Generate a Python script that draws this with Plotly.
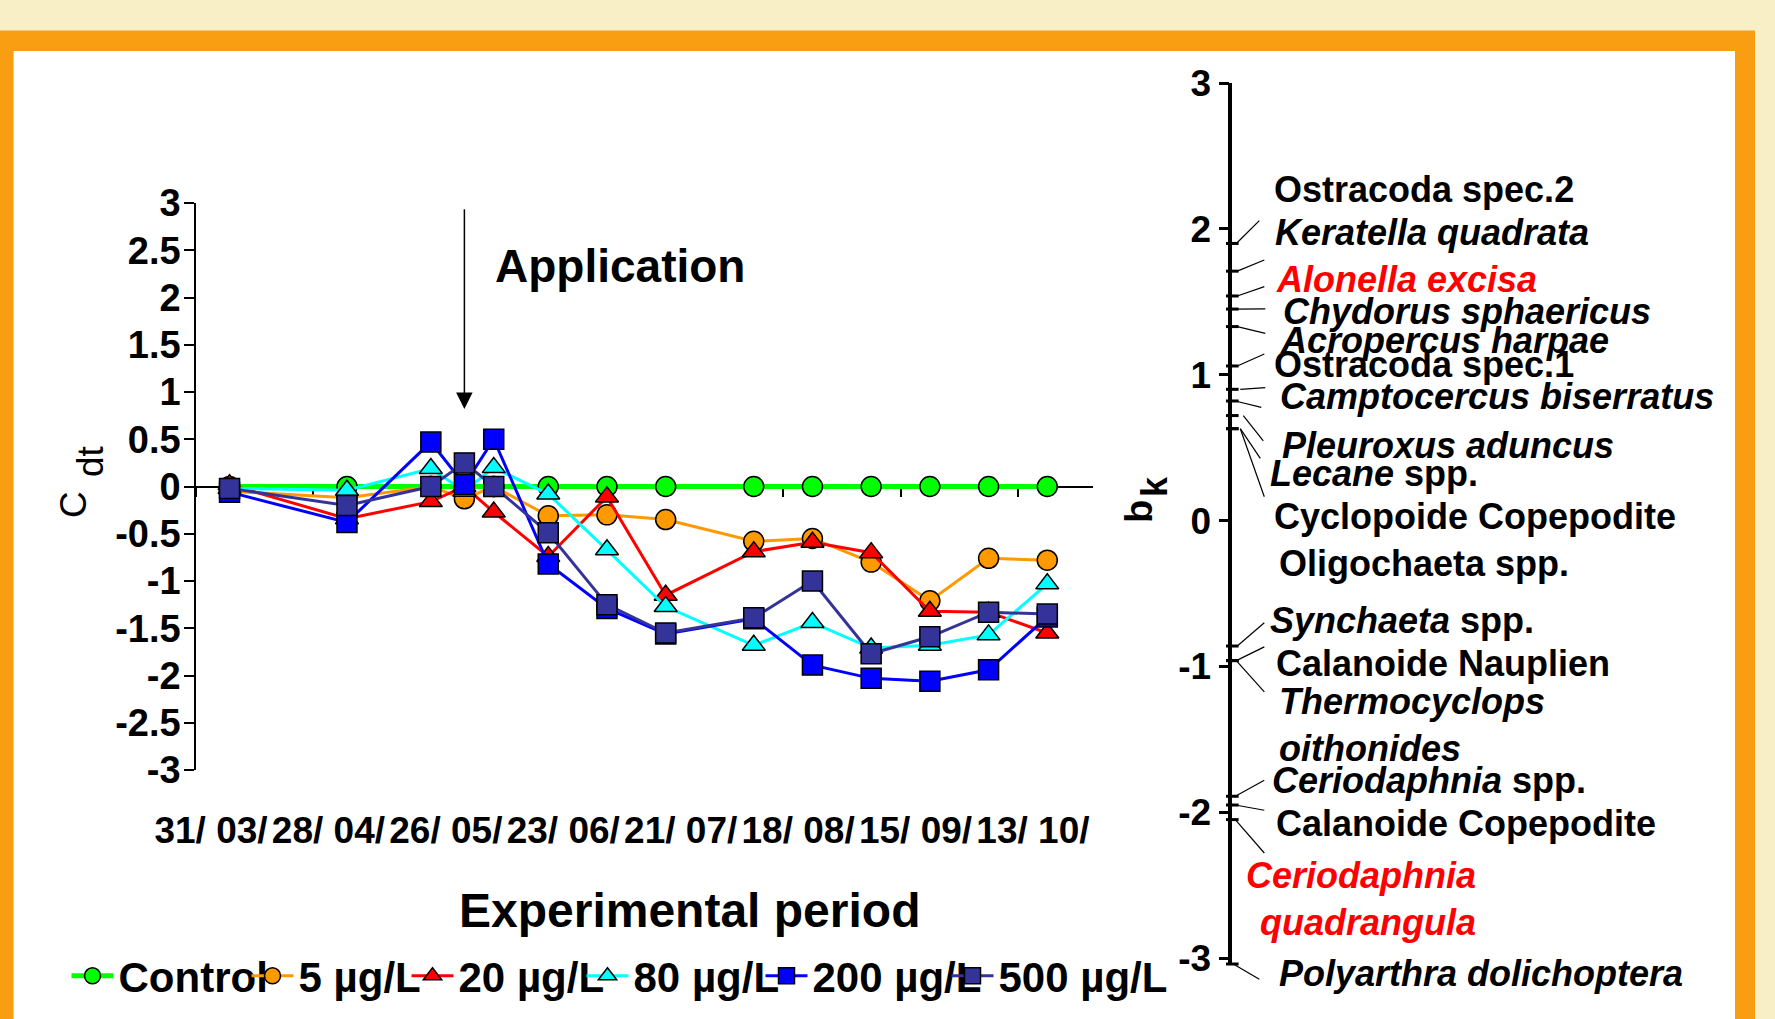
import plotly.graph_objects as go

W, H = 1775, 1019

# ---------------- data: left panel (principal response curves, C_dt) ----------------
sample_dates = ["2004-04-08", "2004-05-06", "2004-05-26", "2004-06-03", "2004-06-10",
                "2004-06-23", "2004-07-07", "2004-07-21", "2004-08-11", "2004-08-25",
                "2004-09-08", "2004-09-22", "2004-10-06", "2004-10-20"]

control = [0.0, 0.0, 0.0, 0.0, 0.0, 0.0, 0.0, 0.0, 0.0, 0.0, 0.0, 0.0, 0.0, 0.0]
c_5 = [-0.05, -0.12, 0.0, -0.13, 0.0, -0.31, -0.30, -0.35, -0.58, -0.55, -0.80, -1.21, -0.76, -0.78]
c_20 = [0.02, -0.34, -0.16, 0.0, -0.27, -0.74, -0.11, -1.15, -0.69, -0.59, -0.70, -1.32, -1.33, -1.55]
c_80 = [-0.02, -0.04, 0.19, -0.05, 0.20, -0.08, -0.67, -1.27, -1.68, -1.44, -1.71, -1.68, -1.57, -1.03]
c_200 = [-0.06, -0.38, 0.47, 0.02, 0.50, -0.82, -1.29, -1.56, -1.40, -1.89, -2.03, -2.06, -1.94, -1.38]
c_500 = [-0.02, -0.20, 0.0, 0.25, 0.0, -0.49, -1.25, -1.55, -1.39, -1.00, -1.77, -1.59, -1.33, -1.35]

series_names = ["Control", "5 µg/L", "20 µg/L", "80 µg/L", "200 µg/L", "500 µg/L"]
series_values = [control, c_5, c_20, c_80, c_200, c_500]

x_tick_dates = ["2004-03-31", "2004-04-28", "2004-05-26", "2004-06-23",
                "2004-07-21", "2004-08-18", "2004-09-15", "2004-10-13"]
x_tick_labels = ["31/ 03/", "28/ 04/", "26/ 05/", "23/ 06/",
                 "21/ 07/", "18/ 08/", "15/ 09/", "13/ 10/"]
y_tick_values = [3, 2.5, 2, 1.5, 1, 0.5, 0, -0.5, -1, -1.5, -2, -2.5, -3]
y_tick_labels = ["3", "2.5", "2", "1.5", "1", "0.5", "0", "-0.5", "-1", "-1.5", "-2", "-2.5", "-3"]
application_date = "2004-06-03"

# ---------------- data: right panel (species weights b_k) ----------------
species_labels = [
    "Ostracoda spec.2", "<i>Keratella quadrata</i>", "<i>Alonella excisa</i>",
    "<i>Chydorus sphaericus</i>", "<i>Acropercus harpae</i>", "Ostracoda spec.1",
    "<i>Camptocercus biserratus</i>", "<i>Pleuroxus aduncus</i>", "<i>Lecane</i> spp.",
    "Cyclopoide Copepodite", "Oligochaeta spp.", "<i>Synchaeta</i> spp.",
    "Calanoide Nauplien", "<i>Thermocyclops</i><br><i>oithonides</i>", "<i>Ceriodaphnia</i> spp.",
    "Calanoide Copepodite", "<i>Ceriodaphnia</i><br><i>quadrangula</i>", "<i>Polyarthra dolichoptera</i>",
]
species_bk = [1.90, 1.71, 1.54, 1.45, 1.33, 1.06, 0.90, 0.82, 0.72, 0.63, 0.63,
              -0.86, -0.96, -0.96, -1.89, -1.95, -2.05, -3.04]
species_colors = ["black", "black", "#FF0000", "black", "black", "black", "black", "black", "black",
                  "black", "black", "black", "black", "black", "black", "black", "#FF0000", "black"]
bk_tick_values = [3, 2, 1, 0, -1, -2, -3]
bk_tick_labels = ["3", "2", "1", "0", "-1", "-2", "-3"]

# ---------------- layout helpers (positions / styles) ----------------
def px_x(p):
    return p / W


def px_y(p):
    return 1 - p / H


FONT = "Liberation Sans, Arial, sans-serif"
styles = [
    dict(color="#00FF00", symbol="circle", lw=5),
    dict(color="#FF9900", symbol="circle", lw=3),
    dict(color="#FF0000", symbol="triangle-up", lw=3),
    dict(color="#00FFFF", symbol="triangle-up", lw=3),
    dict(color="#0000FF", symbol="square", lw=3),
    dict(color="#333399", symbol="square", lw=3),
]
legend_widths = [123, 103, 118, 122, 129, 190]

# leader-line geometry for the species labels (pixel offset from axis, value units)
leader_start_x = [4, 5, 5, 3, 5, 5, 8, 3, 11, 8, 8, 5, 4, 4, 3, 3, 3, 1]
leader_end_x = [27, 32, 32, 33, 33, 32, 33, 29, 31, 28, 32, 32, 32, 32, 32, 32, 32, 27]
leader_end_y = [2.056, 1.787, 1.604, 1.451, 1.284, 1.142, 0.911, 0.776, 0.547, 0.427, 0.163,
                -0.701, -0.866, -1.174, -1.780, -1.986, -2.279, -3.145]
label_x = [40, 41, 42, 49, 46, 40, 46, 48, 36, 40, 45, 36, 42, 45, 38, 42, 246, 45]
label_y = [2.267, 1.972, 1.650, 1.432, 1.238, 1.067, 0.849, 0.518, 0.326, 0.026, -0.291,
           -0.682, -0.977, -1.403, -1.780, -2.075, -2.596, -3.104]

fig = go.Figure()

for name, vals, st, lwid in zip(series_names, series_values, styles, legend_widths):
    fig.add_trace(go.Scatter(
        x=sample_dates, y=vals, name=name, mode="lines+markers",
        line=dict(color=st["color"], width=st["lw"]),
        marker=dict(symbol=st["symbol"], size=20, color=st["color"],
                    line=dict(color="black", width=1.5)),
        legendwidth=lwid, cliponaxis=False, xaxis="x", yaxis="y",
    ))

# species positions on the b_k axis
fig.add_trace(go.Scatter(
    x=[0 for _ in species_bk], y=species_bk, mode="markers", showlegend=False,
    marker=dict(symbol="line-ew", size=9, line=dict(color="black", width=3)),
    cliponaxis=False, xaxis="x3", yaxis="y2", hoverinfo="skip",
))

# leader lines
lx, ly = [], []
for sx, b, ex, ey in zip(leader_start_x, species_bk, leader_end_x, leader_end_y):
    lx += [sx, ex, None]
    ly += [b, ey, None]
fig.add_trace(go.Scatter(
    x=lx, y=ly, mode="lines", showlegend=False, line=dict(color="black", width=1.2),
    xaxis="x3", yaxis="y3", hoverinfo="skip",
))

annotations = []
for i, (txt, col) in enumerate(zip(species_labels, species_colors)):
    right = i == 16
    annotations.append(dict(
        xref="x3", yref="y3", x=label_x[i], y=label_y[i], text=txt, showarrow=False,
        xanchor="right" if right else "left", yanchor="middle",
        align="right" if right else "left",
        font=dict(family=FONT, size=36, color=col, weight="bold"),
    ))

# arrow "Application"
annotations.append(dict(
    xref="x", yref="y", axref="x", ayref="y", x=application_date, y=0.82,
    ax=application_date, ay=2.95, text="", showarrow=True, arrowhead=2,
    arrowsize=2.2, arrowwidth=1.5, arrowcolor="black", standoff=0,
))
annotations.append(dict(
    xref="paper", yref="paper", x=px_x(493), y=px_y(266), text="Application",
    showarrow=False, xanchor="left", yanchor="middle",
    font=dict(family=FONT, size=46, color="black", weight="bold"),
))
annotations.append(dict(
    xref="paper", yref="paper", x=px_x(689), y=px_y(910), text="Experimental period",
    showarrow=False, xanchor="center", yanchor="middle",
    font=dict(family=FONT, size=48, color="black", weight="bold"),
))
# axis titles C_dt and b_k
annotations += [
    dict(xref="paper", yref="paper", x=px_x(73), y=px_y(505), text="C", textangle=-90,
         xanchor="center", yanchor="middle",
         showarrow=False, font=dict(family=FONT, size=37, color="black")),
    dict(xref="paper", yref="paper", x=px_x(90), y=px_y(461), text="dt", textangle=-90,
         xanchor="center", yanchor="middle",
         showarrow=False, font=dict(family=FONT, size=37, color="black")),
    dict(xref="paper", yref="paper", x=px_x(1139), y=px_y(512), text="b", textangle=-90,
         xanchor="center", yanchor="middle",
         showarrow=False, font=dict(family=FONT, size=38, color="black", weight="bold")),
    dict(xref="paper", yref="paper", x=px_x(1154), y=px_y(487), text="k", textangle=-90,
         xanchor="center", yanchor="middle",
         showarrow=False, font=dict(family=FONT, size=36, color="black", weight="bold")),
]

shapes = [
    dict(type="rect", xref="paper", yref="paper", x0=0, x1=px_x(1755), y0=0, y1=px_y(30.5),
         fillcolor="#F99D12", line=dict(width=0), layer="below"),
    dict(type="rect", xref="paper", yref="paper", x0=px_x(13.6), x1=px_x(1735), y0=0, y1=px_y(51),
         fillcolor="white", line=dict(width=0), layer="below"),
]

x_start, x_end = "2004-03-31", "2004-10-30 21:36"

fig.update_layout(
    template="none",
    width=W, height=H, autosize=False,
    margin=dict(l=0, r=0, t=0, b=0, pad=0, autoexpand=False),
    paper_bgcolor="#F9EFC7", plot_bgcolor="rgba(0,0,0,0)",
    font=dict(family=FONT, color="black"),
    shapes=shapes, annotations=annotations,
    showlegend=True,
    legend=dict(orientation="h", x=px_x(66.5), xanchor="left", y=px_y(976), yanchor="middle",
                bgcolor="rgba(0,0,0,0)", font=dict(family=FONT, size=42, color="black", weight="bold"),
                itemwidth=42, tracegroupgap=0, borderwidth=0),
    xaxis=dict(domain=[px_x(196), px_x(1093)], type="date", range=[x_start, x_end],
               anchor="free", position=px_y(486.5), showline=True, linecolor="black", linewidth=1.5,
               ticks="outside", ticklen=10, tickwidth=1.5, tickcolor="black",
               tickvals=x_tick_dates, ticktext=x_tick_labels, tickangle=0,
               tickfont=dict(family=FONT, size=37, color="black", weight="bold"),
               ticklabelstandoff=301, ticklabelshift=15, automargin=False,
               showgrid=False, zeroline=False, layer="below traces"),
    yaxis=dict(domain=[px_y(770), px_y(203)], range=[-3, 3], anchor="x",
               showline=True, linecolor="black", linewidth=1.5,
               ticks="outside", ticklen=10, tickwidth=1.5, tickcolor="black",
               tickvals=y_tick_values, ticktext=y_tick_labels, automargin=False,
               tickfont=dict(family=FONT, size=38, color="black", weight="bold"),
               ticklabelstandoff=-4,
               showgrid=False, zeroline=False, layer="below traces"),
    xaxis3=dict(domain=[px_x(1232.3), px_x(1735)], range=[0, 502.7], anchor="y2",
                visible=False, showgrid=False, zeroline=False, automargin=False),
    yaxis2=dict(domain=[px_y(964), px_y(83)], range=[-3.04, 3], anchor="x3",
                showline=True, linecolor="black", linewidth=3.5,
                ticks="outside", ticklen=10, tickwidth=3, tickcolor="black",
                tickvals=bk_tick_values, ticktext=bk_tick_labels, ticklabelstandoff=0,
                tickfont=dict(family=FONT, size=37, color="black", weight="bold"),
                showgrid=False, zeroline=False, automargin=False),
    yaxis3=dict(domain=[0, px_y(83)], range=[3 - 936 / 145.86, 3], anchor="x3",
                visible=False, showgrid=False, zeroline=False, automargin=False),
)

fig.write_html(
    "out.html",
    config={"displayModeBar": False},
    post_script="document.body.style.margin='0px';document.body.style.overflow='hidden';"
                "document.body.style.backgroundColor='#F9EFC7';",
)
